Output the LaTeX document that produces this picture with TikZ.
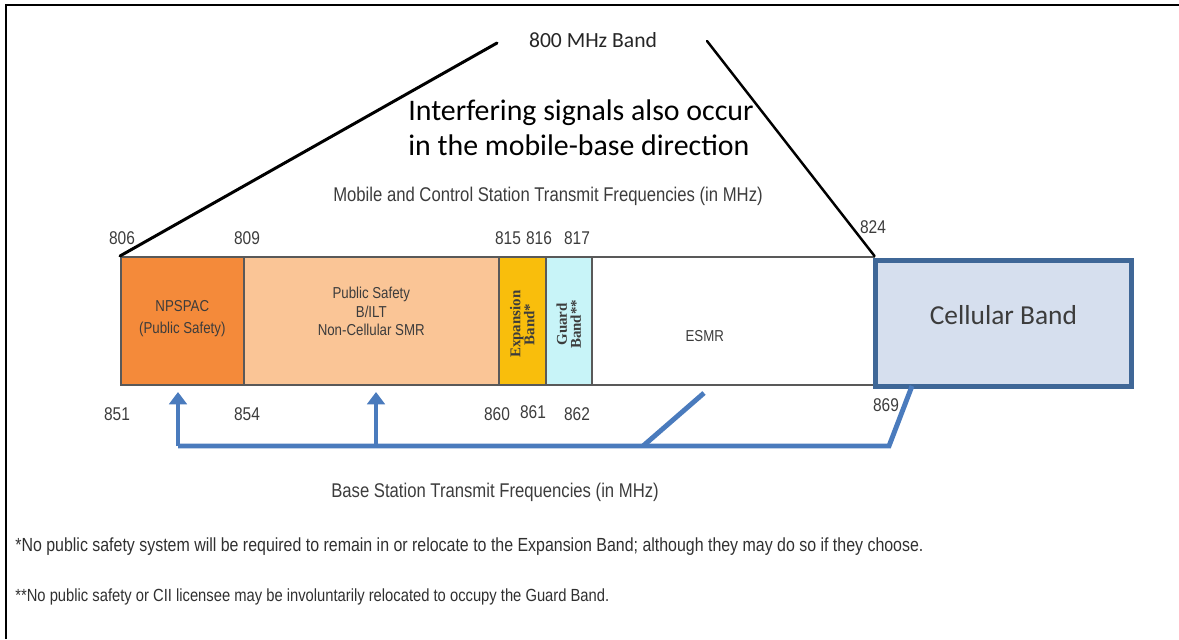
\documentclass[tikz,border=0pt]{standalone}
\usepackage{fontspec}
\usepackage{tikz}
\usetikzlibrary{arrows.meta}
\newfontfamily\calib{Carlito}
\newfontfamily\narrow[FakeStretch=0.84]{Liberation Sans}
\newfontfamily\tnr{Liberation Serif}
\definecolor{npsorange}{HTML}{F48A3A}
\definecolor{pspeach}{HTML}{FAC596}
\definecolor{expgold}{HTML}{F9BE0C}
\definecolor{guardcyan}{HTML}{C8F4F8}
\definecolor{cellfill}{HTML}{D6DFEE}
\definecolor{celledge}{HTML}{3F6797}
\definecolor{arrowblue}{HTML}{4A7BBD}
\definecolor{txtgray}{HTML}{3C3C3C}

\begin{document}
\begin{tikzpicture}[x=0.02cm,y=-0.02cm,line cap=round,
  band/.style={draw=black!65,line width=0.9pt,minimum height=2.56cm,inner sep=0pt,anchor=north west},
  freq/.style={text=txtgray,font=\narrow\fontsize{10.5}{12}\selectfont,inner sep=0pt},
  bandtxt/.style={text=txtgray,font=\narrow\fontsize{9}{12.5}\selectfont,align=center,inner sep=0pt},
  vtxt/.style={text=txtgray,font=\tnr\bfseries\fontsize{8.5}{8}\selectfont,align=center,rotate=90,inner sep=0pt},
  note/.style={text=txtgray!80!black,font=\narrow\fontsize{10}{12}\selectfont,anchor=west,inner sep=0pt},
  wedge/.style={black,line width=1.7pt},
  blueline/.style={arrowblue,line width=2.8pt,line cap=butt},
  >={Triangle[width=10pt,length=7pt]}]
\useasboundingbox (0,0) rectangle (1179,639);
\draw[line width=1.5pt,line cap=butt] (6,639) -- (6,5) -- (1179,5);

\node[band,fill=npsorange,minimum width=2.46cm] (npspac) at (120,256) {};
\node[band,fill=pspeach,minimum width=5.10cm] (pubsafe) at (243,256) {};
\node[band,fill=expgold,minimum width=0.94cm] (expband) at (498,256) {};
\node[band,fill=guardcyan,minimum width=0.92cm] (guardband) at (545,256) {};
\node[band,fill=white,minimum width=5.64cm] (esmr) at (591,256) {};
\node[draw=celledge,fill=cellfill,line width=2.8pt,minimum width=5.12cm,minimum height=2.52cm,
  anchor=north west] (cell) at (873,258) {};

\node[text=txtgray,font=\calib\fontsize{15.6}{18}\selectfont] (celltxt) at ([yshift=0.16cm]cell.center) {Cellular Band};
\node[bandtxt] (npstxt) at ([yshift=0.04cm]npspac.center) {NPSPAC\\(Public Safety)};
\node[bandtxt,font=\narrow\fontsize{9}{10.5}\selectfont] (pstxt) at ([yshift=0.18cm]pubsafe.center) {Public Safety\\B/ILT\\Non-Cellular SMR};
\node[vtxt] (exptxt) at ([yshift=-2pt]expband.center) {Expansion\\Band*};
\node[vtxt] (guardtxt) at ([yshift=-2pt]guardband.center) {Guard\\Band**};
\node[bandtxt] (esmrtxt) at ([xshift=-0.56cm,yshift=-0.3cm]esmr.center) {ESMR};

\foreach \v/\x/\y in {806/122/238,809/247/238,815/508/238,816/539/238,817/577/238,824/873/227,
  851/117/414,854/247/414,860/497/414,861/533/412,862/577/414,869/886/405}
  \node[freq] (f\v) at (\x,\y) {\v};

\node[font=\calib\fontsize{12.3}{14}\selectfont,text=black!85] (title) at (593,40) {800 MHz Band};
\coordinate (ltop) at (497,43);
\coordinate (rtop) at (707,41);
\draw[wedge] (npspac.north west) -- (ltop);
\draw[wedge,line width=1.4pt] (esmr.north east) -- (rtop);

\node[font=\calib\fontsize{17}{20}\selectfont,align=left,anchor=west,inner sep=0pt] (interf) at (408,128)
  {Interfering signals also occur\\in the mobile-base direction};
\node[text=txtgray,font=\narrow\fontsize{11.3}{13}\selectfont] (mobile) at (548,196)
  {Mobile and Control Station Transmit Frequencies (in MHz)};

\coordinate (t1) at (178,392);
\coordinate (t2) at (376,392);
\coordinate (b1) at (178,446);
\coordinate (b2) at (376,446);
\coordinate (bj) at (643,446);
\coordinate (bjtop) at (704,393);
\coordinate (be) at (889,446);
\coordinate (ce) at (912,386);
\draw[blueline,->] (b1) -- (t1);
\draw[blueline,->] (b2) -- (t2);
\draw[blueline,line join=miter] (b1) -- (be) -- (ce);
\draw[blueline] (bj) -- (bjtop);

\node[text=txtgray,font=\narrow\fontsize{11.3}{13}\selectfont] (base) at (495,492)
  {Base Station Transmit Frequencies (in MHz)};
\node[note,font=\narrow\fontsize{10.8}{12}\selectfont] (note1) at (15,547) {*No public safety system will be required to remain in or relocate to the Expansion Band; although they may do so if they choose.};
\node[note] (note2) at (15,597) {**No public safety or CII licensee may be involuntarily relocated to occupy the Guard Band.};
\end{tikzpicture}
\end{document}
